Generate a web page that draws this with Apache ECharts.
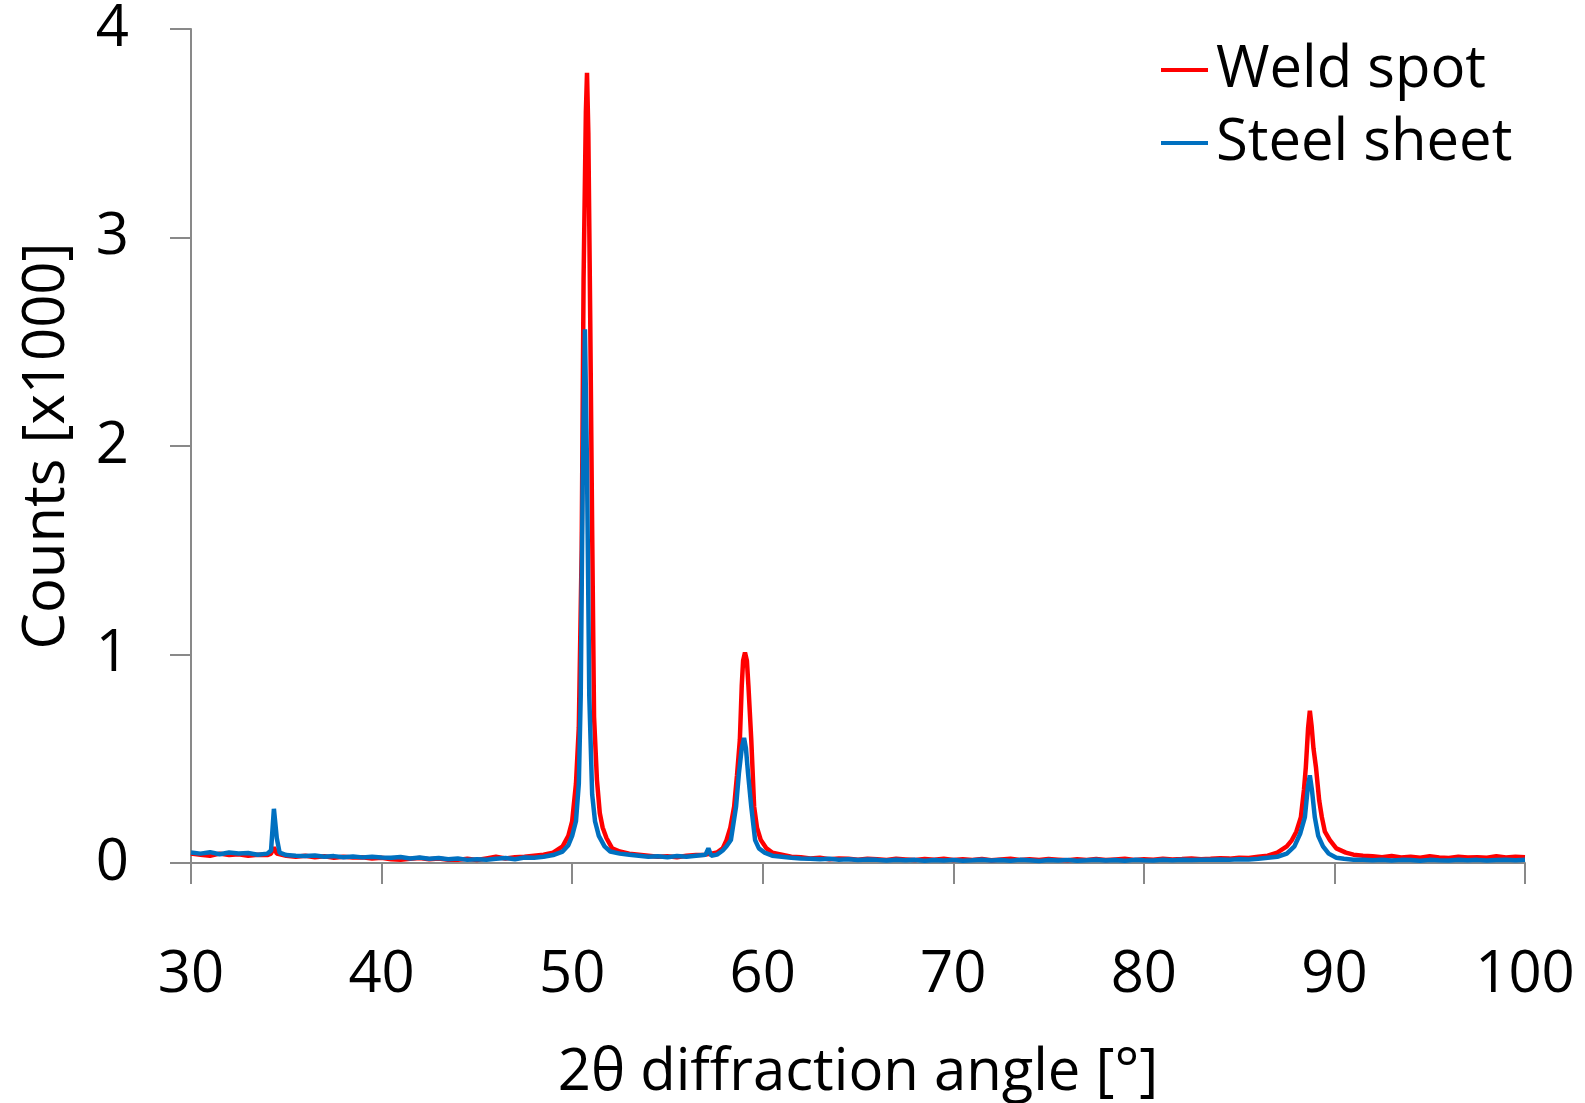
<!DOCTYPE html>
<html>
<head>
<meta charset="utf-8">
<script src="https://cdn.jsdelivr.net/npm/echarts@6/dist/echarts.min.js"></script>
<style>
html,body{margin:0;padding:0;background:#fff;}
#chart{width:1585px;height:1103px;}
</style>
</head>
<body>
<div id="chart"></div>
<script>
// Axis ticks
var xTicks = [30, 40, 50, 60, 70, 80, 90, 100];
var yTicks = [0, 1, 2, 3, 4];

// Weld spot (red) — 2θ [°] and counts [x1000]
var weldAngle = [
 30.0,30.5,31.0,31.5,32.0,32.5,33.0,33.5,34.0,34.2,34.35,34.5,35.0,35.5,36.0,36.5,37.0,37.5,38.0,38.5,
 39.0,39.5,40.0,40.5,41.0,41.5,42.0,42.5,43.0,43.5,44.0,44.5,45.0,45.5,46.0,46.5,47.0,47.5,48.0,48.5,
 49.0,49.5,49.8,50.0,50.2,50.35,50.5,50.6,50.72,50.78,50.85,50.95,51.05,51.15,51.3,51.45,51.6,51.8,52.1,52.5,
 53.0,53.5,54.0,54.5,55.0,55.5,56.0,56.5,57.0,57.3,57.6,57.9,58.1,58.3,58.5,58.65,58.8,58.9,58.97,59.07,
 59.17,59.25,59.4,59.55,59.7,59.9,60.2,60.5,61.0,61.5,62.0,62.5,63.0,63.5,64.0,64.5,65.0,65.5,66.0,66.5,
 67.0,67.5,68.0,68.5,69.0,69.5,70.0,70.5,71.0,71.5,72.0,72.5,73.0,73.5,74.0,74.5,75.0,75.5,76.0,76.5,
 77.0,77.5,78.0,78.5,79.0,79.5,80.0,80.5,81.0,81.5,82.0,82.5,83.0,83.5,84.0,84.5,85.0,85.5,86.0,86.5,
 87.0,87.5,87.77,88.0,88.24,88.4,88.5,88.62,88.71,88.8,88.9,89.03,89.2,89.34,89.5,89.76,90.1,90.6,91.0,91.5,
 92.0,92.5,93.0,93.5,94.0,94.5,95.0,95.5,96.0,96.5,97.0,97.5,98.0,98.5,99.0,99.5,100.0
];
var weldCounts = [
 0.045,0.040,0.035,0.045,0.038,0.042,0.035,0.040,0.038,0.045,0.075,0.045,0.035,0.030,0.035,0.028,0.032,0.025,0.030,0.026,
 0.028,0.022,0.025,0.018,0.015,0.020,0.024,0.018,0.022,0.016,0.015,0.020,0.014,0.022,0.030,0.022,0.028,0.030,0.035,0.040,
 0.050,0.080,0.130,0.200,0.380,0.650,1.500,2.800,3.600,3.790,3.500,2.600,1.600,0.700,0.400,0.240,0.170,0.120,0.070,0.055,
 0.045,0.040,0.035,0.030,0.032,0.028,0.035,0.038,0.040,0.045,0.050,0.070,0.110,0.170,0.270,0.420,0.590,0.850,0.970,1.010,
 0.970,0.850,0.590,0.270,0.170,0.110,0.070,0.050,0.040,0.030,0.028,0.022,0.025,0.018,0.022,0.020,0.016,0.021,0.018,0.015,
 0.020,0.017,0.014,0.019,0.016,0.020,0.014,0.018,0.015,0.019,0.013,0.017,0.020,0.015,0.018,0.014,0.019,0.016,0.013,0.018,
 0.015,0.019,0.014,0.017,0.020,0.015,0.018,0.016,0.021,0.017,0.019,0.022,0.018,0.020,0.023,0.021,0.025,0.024,0.030,0.035,
 0.050,0.080,0.110,0.150,0.220,0.350,0.460,0.650,0.730,0.660,0.550,0.460,0.300,0.220,0.150,0.110,0.070,0.050,0.040,0.035,
 0.032,0.028,0.034,0.026,0.030,0.025,0.032,0.027,0.024,0.030,0.026,0.028,0.025,0.032,0.027,0.030,0.028
];

// Steel sheet (blue) — 2θ [°] and counts [x1000]
var steelAngle = [
 30.0,30.5,31.0,31.5,32.0,32.5,33.0,33.5,34.0,34.2,34.35,34.5,34.65,35.0,35.5,36.0,36.5,37.0,37.5,38.0,
 38.5,39.0,39.5,40.0,40.5,41.0,41.5,42.0,42.5,43.0,43.5,44.0,44.5,45.0,45.5,46.0,46.5,47.0,47.5,48.0,
 48.5,49.0,49.5,49.8,50.0,50.2,50.35,50.45,50.55,50.67,50.78,50.9,51.05,51.2,51.4,51.7,52.0,52.5,53.0,53.5,
 54.0,54.5,55.0,55.5,56.0,56.5,57.0,57.15,57.3,57.6,57.9,58.1,58.33,58.6,58.75,58.9,59.02,59.12,59.23,59.4,
 59.6,59.8,60.1,60.5,61.0,61.5,62.0,62.5,63.0,63.5,64.0,64.5,65.0,65.5,66.0,66.5,67.0,67.5,68.0,68.5,
 69.0,69.5,70.0,70.5,71.0,71.5,72.0,72.5,73.0,73.5,74.0,74.5,75.0,75.5,76.0,76.5,77.0,77.5,78.0,78.5,
 79.0,79.5,80.0,80.5,81.0,81.5,82.0,82.5,83.0,83.5,84.0,84.5,85.0,85.5,86.0,86.5,87.0,87.5,87.9,88.2,
 88.45,88.6,88.71,88.82,88.97,89.15,89.4,89.7,90.1,90.5,91.0,91.5,92.0,92.5,93.0,93.5,94.0,94.5,95.0,95.5,
 96.0,96.5,97.0,97.5,98.0,98.5,99.0,99.5,100.0
];
var steelCounts = [
 0.050,0.045,0.052,0.042,0.050,0.046,0.048,0.040,0.045,0.060,0.260,0.120,0.050,0.038,0.035,0.033,0.036,0.030,0.033,0.028,
 0.031,0.027,0.030,0.026,0.025,0.029,0.022,0.026,0.020,0.024,0.018,0.022,0.015,0.018,0.016,0.020,0.024,0.018,0.026,0.025,
 0.030,0.038,0.055,0.085,0.130,0.200,0.380,0.800,1.800,2.560,1.900,0.800,0.330,0.200,0.130,0.080,0.055,0.045,0.040,0.035,
 0.030,0.032,0.028,0.034,0.030,0.035,0.040,0.070,0.035,0.040,0.060,0.080,0.110,0.270,0.430,0.550,0.600,0.550,0.430,0.270,
 0.110,0.070,0.050,0.035,0.030,0.025,0.022,0.020,0.018,0.020,0.016,0.018,0.014,0.017,0.015,0.012,0.016,0.013,0.015,0.011,
 0.014,0.012,0.015,0.011,0.013,0.016,0.012,0.014,0.011,0.015,0.013,0.010,0.014,0.012,0.015,0.011,0.013,0.016,0.012,0.014,
 0.011,0.015,0.013,0.012,0.016,0.013,0.015,0.014,0.016,0.015,0.017,0.016,0.018,0.017,0.020,0.025,0.030,0.045,0.080,0.140,
 0.220,0.360,0.420,0.350,0.220,0.130,0.080,0.045,0.025,0.020,0.016,0.015,0.013,0.016,0.012,0.015,0.014,0.011,0.015,0.013,
 0.012,0.016,0.013,0.015,0.012,0.014,0.016,0.013,0.015
];

function zip(a, b) { return a.map(function (v, i) { return [v, b[i]]; }); }

var FONT = 'Open Sans';
var AXIS_COLOR = '#898989';

var chart = echarts.init(document.getElementById('chart'), null, { renderer: 'canvas' });
chart.setOption({
  animation: false,
  backgroundColor: '#ffffff',
  grid: { left: 191, right: 60, top: 29, bottom: 240, containLabel: false, outerBoundsMode: 'none' },
  legend: {
    orient: 'vertical',
    left: 1156,
    top: 33,
    itemWidth: 47,
    itemHeight: 4,
    itemGap: 9,
    icon: 'rect',
    textStyle: { fontFamily: FONT, fontSize: 58, color: '#000', lineHeight: 64, padding: [0, 0, 0, 3] },
    data: ['Weld spot', 'Steel sheet']
  },
  xAxis: {
    type: 'value',
    min: xTicks[0],
    max: xTicks[xTicks.length - 1],
    interval: 10,
    name: '2θ diffraction angle [°]',
    nameLocation: 'middle',
    nameGap: 181,
    nameMoveOverlap: false,
    nameTextStyle: { fontFamily: FONT, fontSize: 58, color: '#000' },
    axisLine: { onZero: false, lineStyle: { color: AXIS_COLOR, width: 2 } },
    axisTick: { show: true, inside: false, length: 21, lineStyle: { color: AXIS_COLOR, width: 2 } },
    axisLabel: { fontFamily: FONT, fontSize: 58, color: '#000', margin: 83, showMinLabel: true, showMaxLabel: true },
    splitLine: { show: false }
  },
  yAxis: {
    type: 'value',
    min: yTicks[0],
    max: yTicks[yTicks.length - 1],
    interval: 1,
    name: 'Counts [x1000]',
    nameLocation: 'middle',
    nameRotate: 90,
    nameGap: 115,
    nameMoveOverlap: false,
    nameTextStyle: { fontFamily: FONT, fontSize: 58, color: '#000' },
    axisLine: { show: true, lineStyle: { color: AXIS_COLOR, width: 2 } },
    axisTick: { show: true, inside: false, length: 21, lineStyle: { color: AXIS_COLOR, width: 2 } },
    axisLabel: { fontFamily: FONT, fontSize: 58, color: '#000', margin: 62 },
    splitLine: { show: false }
  },
  series: [
    {
      name: 'Weld spot',
      type: 'line',
      data: zip(weldAngle, weldCounts),
      showSymbol: false,
      symbol: 'none',
      lineStyle: { color: '#FF0000', width: 4.5 },
      itemStyle: { color: '#FF0000' },
      z: 2
    },
    {
      name: 'Steel sheet',
      type: 'line',
      data: zip(steelAngle, steelCounts),
      showSymbol: false,
      symbol: 'none',
      lineStyle: { color: '#0070C0', width: 4.5 },
      itemStyle: { color: '#0070C0' },
      z: 3
    }
  ]
});
</script>
</body>
</html>
